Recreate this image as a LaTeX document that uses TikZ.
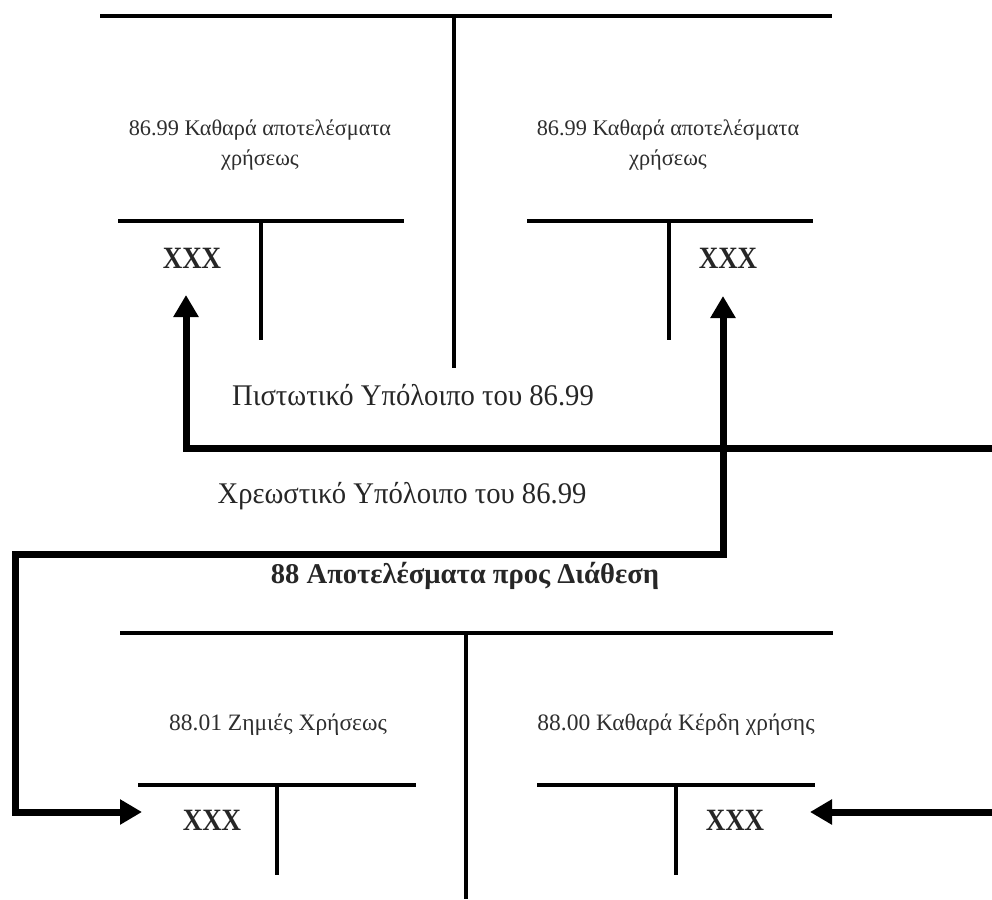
\documentclass[tikz,border=0pt]{standalone}
\usepackage{fontspec}
\setmainfont{Liberation Serif}
\newfontfamily\narrowserif[FakeStretch=0.955]{Liberation Serif}
\newfontfamily\amountserif[FakeStretch=0.87]{Liberation Serif}
\usetikzlibrary{arrows.meta}
\begin{document}
\begin{tikzpicture}[x=1pt,y=-1pt,
  tline/.style={line width=3.2pt},
  flow/.style={line width=7pt,line join=miter},
  tip/.tip={Triangle[length=22pt,width=24pt]},
  acct/.style={align=center,text=black!82,inner sep=0pt,anchor=base,
    font=\fontsize{22.3}{30}\selectfont},
  sub/.style={text=black!82,inner sep=0pt,anchor=base,
    font=\fontsize{23.5}{30}\selectfont},
  amount/.style={text=black!85,inner sep=0pt,anchor=base,
    font=\amountserif\fontsize{31}{32}\selectfont\bfseries},
  note/.style={text=black!85,inner sep=0pt,anchor=base,
    font=\narrowserif\fontsize{30}{32}\selectfont},
  heading/.style={text=black!85,inner sep=0pt,anchor=base,
    font=\fontsize{28.6}{30}\selectfont\bfseries}]
\useasboundingbox (0,0) rectangle (992,899);

% account 86.99: outer T
\coordinate (T1l) at (100,16);
\coordinate (T1r) at (832,16);
\coordinate (T1t) at (454,16);
\coordinate (T1b) at (454,368);
\draw[tline] (T1l) -- (T1r);
\draw[tline] (T1t) -- (T1b);

% left inner T (debit side)
\node[acct] (L1a) at (260,135) {86.99 Καθαρά αποτελέσματα};
\node[acct] (L1b) at (260,165) {χρήσεως};
\coordinate (L1l) at (118,221);
\coordinate (L1r) at (404,221);
\coordinate (L1t) at (261,221);
\coordinate (L1d) at (261,340);
\draw[tline] (L1l) -- (L1r);
\draw[tline] (L1t) -- (L1d);
\node[amount] (X1) at (192,268) {XXX};

% right inner T (credit side)
\node[acct] (R1a) at (668,135) {86.99 Καθαρά αποτελέσματα};
\node[acct] (R1b) at (668,165) {χρήσεως};
\coordinate (R1l) at (527,221);
\coordinate (R1r) at (813,221);
\coordinate (R1t) at (669,221);
\coordinate (R1d) at (669,340);
\draw[tline] (R1l) -- (R1r);
\draw[tline] (R1t) -- (R1d);
\node[amount] (X2) at (728,268) {XXX};

% balance notes
\node[note] (credit) at (413,405) {Πιστωτικό Υπόλοιπο του 86.99};
\node[note] (debit) at (402,503) {Χρεωστικό Υπόλοιπο του 86.99};

% account 88 heading
\node[heading] (head) at (465,583) {88 Αποτελέσματα προς Διάθεση};

% account 88: outer T
\coordinate (T2l) at (120,633);
\coordinate (T2r) at (833,633);
\coordinate (T2t) at (466,633);
\coordinate (T2b) at (466,899);
\draw[tline] (T2l) -- (T2r);
\draw[tline] (T2t) -- (T2b);

% 88.01 inner T
\node[sub] (L2) at (278,730) {88.01 Ζημιές Χρήσεως};
\coordinate (L2l) at (138,785);
\coordinate (L2r) at (416,785);
\coordinate (L2t) at (277,785);
\coordinate (L2d) at (277,875);
\draw[tline] (L2l) -- (L2r);
\draw[tline] (L2t) -- (L2d);
\node[amount] (X3) at (212,830) {XXX};

% 88.00 inner T
\node[sub] (R2) at (676,730) {88.00 Καθαρά Κέρδη χρήσης};
\coordinate (R2l) at (537,785);
\coordinate (R2r) at (815,785);
\coordinate (R2t) at (676,785);
\coordinate (R2d) at (676,875);
\draw[tline] (R2l) -- (R2r);
\draw[tline] (R2t) -- (R2d);
\node[amount] (X4) at (735,830) {XXX};

% transfer arrows
\coordinate (A1s) at (996,448);
\coordinate (A1e) at (186,295);
\draw[flow,-tip] (A1s) -| (A1e);

\coordinate (A2s) at (142,812);
\coordinate (A2a) at (15,812);
\coordinate (A2b) at (15,554);
\coordinate (A2c) at (723,554);
\coordinate (A2e) at (723,296);
\draw[flow,tip-tip] (A2s) -- (A2a) -- (A2b) -- (A2c) -- (A2e);

\coordinate (A3s) at (996,812);
\coordinate (A3e) at (810,812);
\draw[flow,-tip] (A3s) -- (A3e);
\end{tikzpicture}
\end{document}
